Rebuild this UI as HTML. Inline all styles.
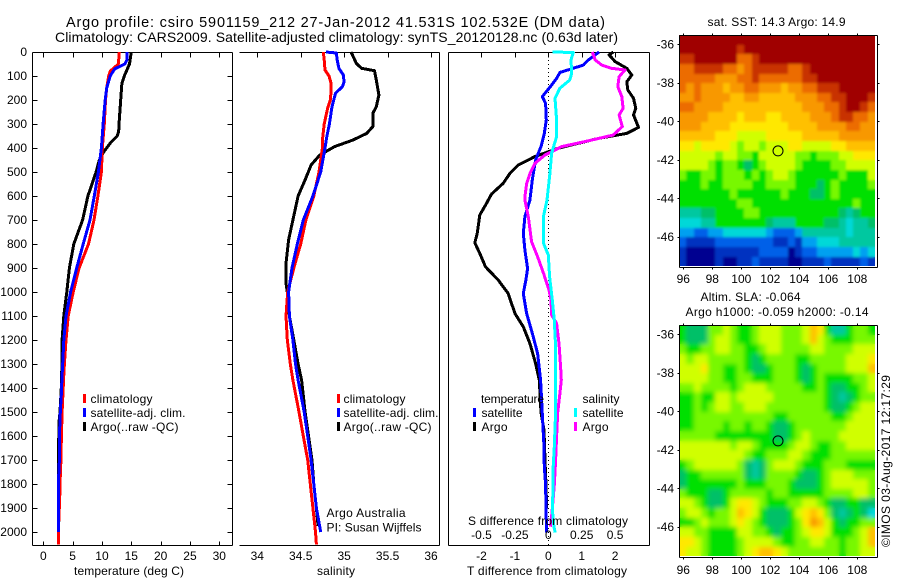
<!DOCTYPE html>
<html lang="en">
<head>
<meta charset="utf-8">
<title>Argo profile chart</title>
<style>
html,body{margin:0;padding:0;background:#fff;}
svg{display:block;}
text{font-family:"Liberation Sans",sans-serif;font-size:12px;fill:#000;}
.t{font-size:14px;}
.t1{font-size:14.5px;}
</style>
</head>
<body>
<svg id="chart" xmlns="http://www.w3.org/2000/svg" width="900" height="580" viewBox="0 0 900 580">
<defs>
<filter id="soft-sst" x="0" y="0" width="1" height="1" filterUnits="objectBoundingBox"><feGaussianBlur stdDeviation="1.2"/></filter>
<filter id="soft-sla" x="0" y="0" width="1" height="1" filterUnits="objectBoundingBox"><feGaussianBlur stdDeviation="2.4"/></filter>
</defs>
<rect x="0" y="0" width="900" height="580" fill="#fff"/>
<text class="t1" x="66" y="27" textLength="539" lengthAdjust="spacing">Argo profile: csiro 5901159_212 27-Jan-2012 41.531S 102.532E (DM data)</text>
<text class="t" x="55" y="42" textLength="563" lengthAdjust="spacing">Climatology: CARS2009. Satellite-adjusted climatology: synTS_20120128.nc (0.63d later)</text>
<g id="heat-sst"></g>
<use href="#heat-sst" filter="url(#soft-sst)"/>
<g id="heat-sla"></g>
<use href="#heat-sla" filter="url(#soft-sla)"/>
<g id="frames"></g>
<g id="marks"></g>
<g id="ticks"></g>
<text x="74" y="575" textLength="110" lengthAdjust="spacing">temperature (deg C)</text>
<text x="317" y="575" textLength="38" lengthAdjust="spacing">salinity</text>
<text x="467" y="575" textLength="160" lengthAdjust="spacing">T difference from climatology</text>
<text x="468" y="525" textLength="160" lengthAdjust="spacing">S difference from climatology</text>

<g>
<rect x="83" y="394" width="3" height="9" fill="#f00"/>
<text x="90.5" y="403" textLength="62" lengthAdjust="spacing">climatology</text>
<rect x="83" y="408" width="3" height="9" fill="#00f"/>
<text x="90.5" y="417" textLength="95" lengthAdjust="spacing">satellite-adj. clim.</text>
<rect x="83" y="422" width="3" height="9" fill="#000"/>
<text x="90.5" y="431" textLength="88" lengthAdjust="spacing">Argo(..raw -QC)</text>
</g>
<g>
<rect x="337" y="394" width="3" height="9" fill="#f00"/>
<text x="343.5" y="403" textLength="62" lengthAdjust="spacing">climatology</text>
<rect x="337" y="408" width="3" height="9" fill="#00f"/>
<text x="343.5" y="417" textLength="95" lengthAdjust="spacing">satellite-adj. clim.</text>
<rect x="337" y="422" width="3" height="9" fill="#000"/>
<text x="343.5" y="431" textLength="88" lengthAdjust="spacing">Argo(..raw -QC)</text>
</g>
<text x="326.5" y="517" textLength="79" lengthAdjust="spacing">Argo Australia</text>
<text x="326.5" y="531.5" textLength="95" lengthAdjust="spacing">PI: Susan Wijffels</text>
<g>
<text x="481" y="403" textLength="63" lengthAdjust="spacing">temperature</text>
<rect x="473" y="408" width="3" height="9" fill="#00f"/>
<text x="481.5" y="417" textLength="41" lengthAdjust="spacing">satellite</text>
<rect x="473" y="422" width="3" height="9" fill="#000"/>
<text x="481.5" y="431" textLength="26" lengthAdjust="spacing">Argo</text>
<text x="582.5" y="403" textLength="37" lengthAdjust="spacing">salinity</text>
<rect x="574" y="408" width="3" height="9" fill="#0ff"/>
<text x="582.5" y="417" textLength="41" lengthAdjust="spacing">satellite</text>
<rect x="574" y="422" width="3" height="9" fill="#f0f"/>
<text x="582.5" y="431" textLength="26" lengthAdjust="spacing">Argo</text>
</g>
<text x="707.5" y="26" textLength="138" lengthAdjust="spacing">sat. SST: 14.3 Argo: 14.9</text>
<text x="700.5" y="301" textLength="100" lengthAdjust="spacing">Altim. SLA: -0.064</text>
<text x="685.5" y="316" textLength="183" lengthAdjust="spacing">Argo h1000: -0.059 h2000: -0.14</text>
<text transform="translate(890,547) rotate(-90)" x="0" y="0" textLength="172" lengthAdjust="spacing">©IMOS 03-Aug-2017 12:17:29</text>
</svg>
<script>
// ---- depth axis ----
const depthTicks = [0,100,200,300,400,500,600,700,800,900,1000,1100,1200,1300,1400,1500,1600,1700,1800,1900,2000];
const tempTicks = [0,5,10,15,20,25,30];
const salTicks = [34,34.5,35,35.5,36];
const salTickLabels = ['34','34.5','35','35.5','36'];
const diffTTicks = [-2,-1,0,1,2];
const diffSTicks = [-0.5,-0.25,0,0.25,0.5];
const diffSTickLabels = ['-0.5','-0.25','0','0.25','0.5'];
const lonTicks = [96,98,100,102,104,106,108];
const latTicks = [-36,-38,-40,-42,-44,-46];

// ---- temperature panel ----
const tempClimDepth = [0,50,80,100,150,200,300,400,500,600,700,800,900,1000,1100,1200,1300,1367,1400,1500,1600,1700,1800,1860,2000,2052];
const tempClimValue = [12.96,12.8,11.4,11.15,10.8,10.6,10.4,10.05,9.9,9.3,8.65,7.7,6.1,5.1,4.25,3.87,3.6,3.45,3.4,3.2,3.08,3.0,2.85,2.8,2.56,2.56];
const tempSatDepth = [0,30,50,70,90,100,150,200,300,400,500,600,700,800,900,1000,1100,1200,1300,1367,1400,1500,1600,1700,1800,2000];
const tempSatValue = [14.3,14.3,13.9,12.2,11.65,11.4,10.8,10.55,10.2,9.9,9.4,8.7,7.96,6.8,5.7,4.66,3.87,3.5,3.3,3.15,3.13,2.9,2.74,2.74,2.56,2.56];
const tempArgoDepth = [0,50,100,130,200,300,330,350,380,420,450,500,550,600,700,800,900,1000,1100,1200,1300,1367,1400,1500,1550,1700,1750,1860,2000];
const tempArgoValue = [15,14.7,13.8,13.4,13.2,12.9,12.85,12.6,11.4,10.2,9.55,9,8.3,7.6,6.7,5.2,4.45,4,3.5,3.2,3.2,3.07,3.07,2.85,2.65,2.62,2.6,2.7,2.6];

// ---- salinity panel ----
const salClimDepth = [0,33,75,100,131,165,200,235,300,367,400,500,600,700,800,900,1000,1100,1200,1300,1367,1500,1600,1700,1800,1900,2000,2052];
const salClimValue = [34.76,34.77,34.78,34.825,34.85,34.85,34.84,34.81,34.77,34.75,34.75,34.71,34.65,34.56,34.5,34.42,34.35,34.33,34.345,34.38,34.41,34.48,34.53,34.58,34.61,34.64,34.67,34.68];
const salSatDepth = [0,4,33,68,96,124,144,172,228,300,353,400,500,600,700,800,900,1000,1100,1200,1300,1367,1500,1600,1700,1800,1900,2000];
const salSatValue = [34.79,34.91,34.92,34.94,34.99,35.0,34.98,34.9,34.86,34.83,34.8,34.78,34.73,34.64,34.53,34.46,34.4,34.36,34.37,34.41,34.44,34.47,34.54,34.58,34.62,34.65,34.68,34.73];
const salArgoDepth = [0,47,68,78,117,179,228,256,311,339,367,394,429,471,533,600,700,783,880,964,1000,1100,1200,1300,1367,1500,1600,1700,1800,1900,1975];
const salArgoValue = [35.08,35.14,35.2,35.35,35.37,35.4,35.37,35.33,35.33,35.26,35.1,34.89,34.72,34.62,34.55,34.47,34.41,34.36,34.33,34.33,34.345,34.37,34.42,34.47,34.51,34.55,34.59,34.63,34.65,34.68,34.7];

// ---- difference panel ----
const diffTSatDepth = [0,33,54,68,85,110,138,186,214,283,339,394,450,533,617,686,756,825,902,950,1006,1089,1172,1256,1367,1450,1534,1645,1728,1804,1903,2002];
const diffTSatValue = [1.52,1.2,1.05,0.75,0.35,0.25,0.1,-0.18,-0.08,-0.06,-0.12,-0.22,-0.38,-0.48,-0.55,-0.7,-0.75,-0.7,-0.62,-0.67,-0.75,-0.65,-0.48,-0.32,-0.23,-0.2,-0.17,-0.13,-0.12,-0.08,-0.07,-0.05];
const diffTArgoDepth = [0,12,40,68,96,124,158,193,235,262,314,339,360,401,436,471,506,547,592,631,679,756,795,839,895,950,1006,1089,1145,1214,1298,1367,1502,1575,1702,1804,1903];
const diffTArgoValue = [1.95,1.82,2.0,2.35,2.5,2.35,2.38,2.55,2.62,2.55,2.7,2.35,1.5,0.3,-0.4,-0.9,-1.15,-1.35,-1.7,-1.85,-2.05,-2.13,-2.2,-2.05,-1.88,-1.5,-1.2,-1.0,-0.75,-0.55,-0.38,-0.27,-0.22,-0.13,-0.1,-0.07,-0.05];
const diffSSatDepth = [0,2,33,89,117,151,193,283,353,422,506,617,686,798,846,936,1034,1117,1228,1367,1502,1645,1728,1804,1903,1978,2002];
const diffSSatValue = [0.03,0.187,0.17,0.175,0.16,0.087,0.05,0.062,0.062,0.025,0.012,-0.01,-0.037,-0.035,0,0.01,0.03,0.045,0.055,0.055,0.055,0.045,0.037,0.037,0.03,0.042,0.052];
const diffSArgoDepth = [0,33,54,68,75,103,144,186,235,262,311,346,367,394,429,464,506,547,603,617,686,791,853,923,992,1034,1096,1131,1214,1312,1367,1423,1502,1602,1702,1804,1903,1978];
const diffSArgoValue = [0.33,0.35,0.4,0.474,0.574,0.53,0.52,0.55,0.56,0.53,0.554,0.486,0.324,0.1,-0.025,-0.1,-0.137,-0.162,-0.175,-0.175,-0.15,-0.125,-0.08,-0.035,0.005,0.02,0.025,0.062,0.08,0.092,0.097,0.087,0.07,0.062,0.055,0.045,0.03,0.017];

// ---- SST map levels: rows north to south, columns west to east ----
const sstLevels = [
[15,15,15,15,15,15,15,15,15,15,15,15,15,15,15,15,15,15,15,15,15,15,15,15,15,15,15],
[15,15,15,15,15,15,15,15,14,15,15,15,15,15,15,15,15,15,15,15,15,15,15,15,15,15,15],
[14,14,15,15,15,15,15,15,13,13,14,15,15,15,15,15,15,15,15,15,15,15,15,15,15,15,15],
[13,13,14,14,14,14,13,13,12,13,14,14,14,14,14,13,13,14,15,15,15,15,15,15,15,15,15],
[13,13,13,13,13,12,12,12,13,13,14,13,13,13,13,13,13,14,14,15,15,15,15,15,15,15,15],
[13,12,13,12,12,12,11,12,12,13,13,12,12,12,11,12,12,13,13,14,14,14,15,15,15,15,15],
[12,12,13,12,12,12,12,11,11,12,12,11,11,11,11,11,12,12,12,13,13,14,14,15,15,15,14],
[13,13,12,12,12,12,11,11,11,11,11,11,11,11,11,11,11,12,12,12,13,13,14,15,15,14,13],
[12,12,12,12,11,11,11,11,10,11,11,11,10,10,11,11,11,11,12,12,12,13,14,14,13,13,12],
[12,12,12,11,11,11,11,10,10,10,10,10,10,10,10,11,11,11,11,12,12,12,12,13,13,12,12],
[11,11,11,11,11,10,10,10,9,9,9,9,10,10,10,10,10,11,11,11,11,11,12,12,12,12,12],
[10,10,9,10,10,10,10,9,8,9,9,8,9,9,9,10,10,9,9,9,9,10,10,11,11,11,11],
[9,9,9,9,9,8,9,9,8,8,7,9,9,9,9,9,8,8,7,8,8,8,9,9,10,10,10],
[9,9,9,9,8,7,8,8,7,6,7,8,9,9,9,9,8,7,7,7,7,8,8,9,9,9,9],
[8,7,7,8,8,7,8,8,8,7,8,7,8,9,9,8,7,7,7,7,7,7,8,7,7,7,9],
[7,7,7,8,7,7,8,8,8,8,7,7,8,8,8,8,7,7,7,6,7,8,7,7,7,7,8],
[7,7,7,7,7,7,7,8,7,7,7,7,7,7,8,7,7,7,6,6,7,8,7,7,7,7,7],
[7,7,7,7,7,7,7,7,8,8,7,7,7,7,7,7,7,7,7,7,7,7,7,7,8,7,7],
[5,5,5,6,6,7,7,7,7,8,8,7,7,7,7,7,7,7,7,7,7,7,6,5,6,7,7],
[4,4,4,5,5,7,7,7,7,7,7,7,6,5,5,5,7,7,7,7,6,6,5,4,5,5,6],
[3,3,2,2,3,3,4,4,4,4,4,4,3,2,2,2,3,5,5,5,5,5,5,4,5,5,5],
[2,1,1,1,1,2,2,2,2,2,2,2,2,1,1,2,1,3,3,4,4,4,5,5,5,5,5],
[1,0,0,0,0,1,1,1,1,1,1,2,2,2,2,0,1,2,2,3,3,3,3,3,4,3,4],
[1,0,0,0,0,1,0,0,1,1,2,1,1,1,1,0,0,1,1,1,2,1,1,1,1,2,1]
];

// ---- altimeter SLA map levels: rows north to south, columns west to east ----
const slaLevels = [
[7,6,6,6,8,8,9,8,7,7,8,9,9,9,8,8,8,9,11,10,7,5,5,7,8,8,7],
[7,6,6,6,8,9,9,8,7,7,8,9,9,9,8,8,8,9,11,9,8,7,7,7,8,8,8],
[8,7,7,8,8,9,9,8,8,7,7,8,9,9,8,8,8,8,9,9,8,8,8,8,9,9,9],
[9,8,9,9,8,8,8,8,8,7,6,7,8,8,8,8,7,7,8,8,8,8,8,9,9,9,10],
[9,9,9,10,8,8,7,7,8,7,6,6,7,8,8,8,7,6,7,8,8,8,8,9,9,9,11],
[9,9,9,9,8,8,7,7,8,8,7,7,7,8,8,8,7,6,7,8,7,7,7,7,8,8,9],
[8,8,9,8,8,8,8,7,8,9,9,9,8,8,8,8,8,7,7,8,7,6,6,7,7,8,9],
[7,7,8,7,7,9,9,8,9,9,9,9,9,8,8,8,8,8,8,8,7,6,5,6,7,8,8],
[7,7,8,7,8,9,9,8,8,9,9,9,8,8,8,8,8,8,8,8,7,6,6,7,8,9,9],
[7,7,8,8,8,8,8,8,8,8,8,8,8,7,7,8,8,8,8,8,8,7,7,8,9,9,9],
[7,7,8,8,8,8,7,8,8,7,8,8,7,6,6,7,8,8,8,8,8,8,8,9,9,9,9],
[8,8,8,8,8,7,7,7,7,7,7,7,7,6,6,7,8,9,8,8,8,8,9,9,9,9,9],
[9,9,9,9,9,9,9,8,9,9,8,7,7,7,7,8,9,9,8,7,7,8,8,9,9,9,9],
[9,9,9,9,9,9,9,9,9,8,7,7,8,8,8,9,9,8,7,7,7,8,8,8,8,8,8],
[7,8,9,9,9,9,9,9,8,6,5,6,8,9,9,9,8,7,7,7,8,8,8,7,7,7,7],
[6,7,7,8,8,8,8,8,8,6,5,6,8,8,8,8,7,6,6,7,8,9,9,9,8,8,8],
[6,7,7,7,7,7,7,7,8,7,7,7,8,8,8,7,6,6,6,7,8,9,9,9,9,9,8],
[8,7,7,7,6,6,7,8,8,8,8,8,7,8,8,7,7,7,7,7,8,8,8,8,9,9,8],
[9,9,8,7,6,6,7,9,10,10,9,8,7,7,7,8,8,9,9,8,7,6,6,7,7,6,6],
[8,9,9,8,7,8,8,9,11,10,9,7,6,6,6,7,9,10,11,10,8,6,5,6,7,6,4],
[7,7,8,9,8,8,8,9,10,9,8,7,6,6,6,7,8,10,12,11,9,7,6,7,7,8,8],
[9,9,8,8,7,7,7,7,9,9,8,8,7,6,7,7,8,9,10,10,9,7,7,7,8,9,11],
[10,10,9,8,7,7,7,7,8,9,9,9,9,8,7,7,8,8,9,9,8,8,7,8,8,9,11],
[10,9,9,8,7,7,7,7,8,9,10,11,11,10,9,8,8,8,8,8,8,8,7,8,8,9,9]
];

// ---- float position ----
const floatLon = [102.532];
const floatLat = [-41.531];

const colorRamp = ['#000090','#0030c0','#0060e8','#00a0f0','#00d8d8','#00c8a0','#00c068','#00e000','#78f800','#d0ff00','#ffe800','#ffc000','#f89800','#ec6c00','#c83000','#a00000'];

const NS = 'http://www.w3.org/2000/svg';
const gHeatSst = document.getElementById('heat-sst');
const gHeatSla = document.getElementById('heat-sla');
const gFrames = document.getElementById('frames');
const gMarks = document.getElementById('marks');
const gTicks = document.getElementById('ticks');

function depthY(d){ return 52 + d * 0.24; }
function tempX(t){ return 43.3 + t * 5.867; }
function salX(s){ return 257.3 + (s - 34) * 86.85; }
function diffTX(t){ return 548.3 + t * 33.4; }
function diffSX(s){ return 548.3 + s * 133.6; }
function lonX(l){ return 683.3 + (l - 96) * 14.5; }
function latOffset(l){ return (-36 - l) * 19.27; }
function sstLatY(l){ return 44.3 + latOffset(l); }
function slaLatY(l){ return 334.3 + latOffset(l); }

function seg(parent, x1, y1, x2, y2, name){
  const el = document.createElementNS(NS, 'line');
  el.setAttribute('x1', Math.round(x1) + 0.5);
  el.setAttribute('y1', Math.round(y1) + 0.5);
  el.setAttribute('x2', Math.round(x2) + 0.5);
  el.setAttribute('y2', Math.round(y2) + 0.5);
  el.setAttribute('stroke', '#000');
  el.setAttribute('stroke-width', '1');
  el.setAttribute('shape-rendering', 'crispEdges');
  
  
  parent.appendChild(el);
}
function label(x, y, str, anchor, name){
  const el = document.createElementNS(NS, 'text');
  el.setAttribute('x', x);
  el.setAttribute('y', y);
  el.setAttribute('text-anchor', anchor);
  el.textContent = str;
  
  
  gTicks.appendChild(el);
}
function profile(depths, values, xFn, color, name){
  const el = document.createElementNS(NS, 'polyline');
  const pts = depths.map(function(d, i){ return xFn(values[i]).toFixed(1) + ',' + depthY(d).toFixed(1); });
  el.setAttribute('points', pts.join(' '));
  el.setAttribute('fill', 'none');
  el.setAttribute('stroke', color);
  el.setAttribute('stroke-width', '3');
  el.setAttribute('stroke-linejoin', 'round');
  el.setAttribute('shape-rendering', 'crispEdges');
  
  
  gMarks.appendChild(el);
}
function heatmap(levels, yFn, parent, cellName){
  levels.forEach(function(row, j){
    row.forEach(function(v, i){
      const west = 95.72 + i * 0.5, east = west + 0.5;
      const north = -35.52 - j * 0.5, south = north - 0.5;
      const x0 = Math.round(lonX(west)), x1 = Math.round(lonX(east));
      const y0 = Math.round(yFn(north)), y1 = Math.round(yFn(south));
      const el = document.createElementNS(NS, 'rect');
      el.setAttribute('x', x0);
      el.setAttribute('y', y0);
      el.setAttribute('width', x1 - x0);
      el.setAttribute('height', y1 - y0);
      el.setAttribute('fill', colorRamp[v]);
      el.setAttribute('shape-rendering', 'crispEdges');
      
      
      parent.appendChild(el);
    });
  });
}

// Temperature panel frame and ticks
seg(gFrames, 32, 52, 232, 52, 'temperature-top-axis');
seg(gFrames, 32, 545, 232, 545, 'temperature-bottom-axis');
seg(gFrames, 32, 52, 32, 545, 'temperature-left-axis');
seg(gFrames, 232, 52, 232, 545, 'temperature-right-axis');
depthTicks.forEach(function(d){
  const y = depthY(d);
  seg(gTicks, 32, y, 37, y, 'depth-tick-left');
  seg(gTicks, 227, y, 232, y, 'depth-tick-right');
  label(27, y + 4, String(d), 'end', 'depth-tick-label');
});
tempTicks.forEach(function(t){
  const x = tempX(t);
  seg(gTicks, x, 52, x, 57, 'temperature-tick-top');
  seg(gTicks, x, 541, x, 545, 'temperature-tick-bottom');
  label(x, 560, String(t), 'middle', 'temperature-tick-label');
});

// Salinity panel frame and ticks
seg(gFrames, 239, 52, 439, 52, 'salinity-top-axis');
seg(gFrames, 239, 545, 439, 545, 'salinity-bottom-axis');
seg(gFrames, 439, 52, 439, 545, 'salinity-right-axis');
salTicks.forEach(function(s, i){
  const x = salX(s);
  seg(gTicks, x, 52, x, 57, 'salinity-tick-top');
  label(x, 560, salTickLabels[i], 'middle', 'salinity-tick-label');
});

// Difference panel frame and ticks
seg(gFrames, 448, 52, 649, 52, 'difference-top-axis');
seg(gFrames, 448, 545, 649, 545, 'difference-bottom-axis');
seg(gFrames, 448, 52, 448, 545, 'difference-left-axis');
seg(gFrames, 649, 52, 649, 545, 'difference-right-axis');
diffTTicks.forEach(function(t){
  const x = diffTX(t);
  seg(gTicks, x, 52, x, 57, 'difference-tick-top');
  label(x, 560, String(t), 'middle', 't-difference-tick-label');
});
diffSTicks.forEach(function(s, i){
  label(diffSX(s), 539, diffSTickLabels[i], 'middle', 's-difference-tick-label');
});
const zero = document.createElementNS(NS, 'line');
zero.setAttribute('x1', Math.round(diffTX(0)) + 0.5);
zero.setAttribute('x2', Math.round(diffTX(0)) + 0.5);
zero.setAttribute('y1', 52);
zero.setAttribute('y2', 545);
zero.setAttribute('stroke', '#000');
zero.setAttribute('stroke-dasharray', '1 3');
zero.setAttribute('shape-rendering', 'crispEdges');


gFrames.appendChild(zero);

// Profiles
profile(tempArgoDepth, tempArgoValue, tempX, '#000', 'temperature-argo-line');
profile(tempClimDepth, tempClimValue, tempX, '#f00', 'temperature-climatology-line');
profile(tempSatDepth, tempSatValue, tempX, '#00f', 'temperature-satellite-line');
profile(salArgoDepth, salArgoValue, salX, '#000', 'salinity-argo-line');
profile(salClimDepth, salClimValue, salX, '#f00', 'salinity-climatology-line');
profile(salSatDepth, salSatValue, salX, '#00f', 'salinity-satellite-line');
profile(diffTArgoDepth, diffTArgoValue, diffTX, '#000', 'difference-t-argo-line');
profile(diffTSatDepth, diffTSatValue, diffTX, '#00f', 'difference-t-satellite-line');
profile(diffSArgoDepth, diffSArgoValue, diffSX, '#f0f', 'difference-s-argo-line');
profile(diffSSatDepth, diffSSatValue, diffSX, '#0ff', 'difference-s-satellite-line');

// Maps
heatmap(sstLevels, sstLatY, gHeatSst, 'sst-cell');
heatmap(slaLevels, slaLatY, gHeatSla, 'sla-cell');

function mapFrame(top, bottom, yFn, tickLabelY){
  const left = 679, right = 877;
  seg(gFrames, left, top, right, top, 'map-top-axis');
  seg(gFrames, left, bottom, right, bottom, 'map-bottom-axis');
  seg(gFrames, left, top, left, bottom, 'map-left-axis');
  seg(gFrames, right, top, right, bottom, 'map-right-axis');
  lonTicks.forEach(function(l){
    const x = lonX(l);
    seg(gTicks, x, top - 2, x, top, 'map-longitude-tick-top');
    seg(gTicks, x, bottom, x, bottom + 2, 'map-longitude-tick-bottom');
    label(x, tickLabelY, String(l), 'middle', 'map-longitude-label');
  });
  latTicks.forEach(function(l){
    const y = yFn(l);
    seg(gTicks, left - 2, y, left, y, 'map-latitude-tick-left');
    seg(gTicks, right, y, right + 2, y, 'map-latitude-tick-right');
    label(674, y + 4, String(l), 'end', 'map-latitude-label');
  });
  const c = document.createElementNS(NS, 'circle');
  c.setAttribute('cx', lonX(floatLon[0]));
  c.setAttribute('cy', yFn(floatLat[0]));
  c.setAttribute('r', 5);
  c.setAttribute('fill', 'none');
  c.setAttribute('stroke', '#000');
  c.setAttribute('stroke-width', '1');
  
  
  gTicks.appendChild(c);
}
mapFrame(35, 267, sstLatY, 283);
mapFrame(325, 557, slaLatY, 574);
</script>
</body>
</html>
